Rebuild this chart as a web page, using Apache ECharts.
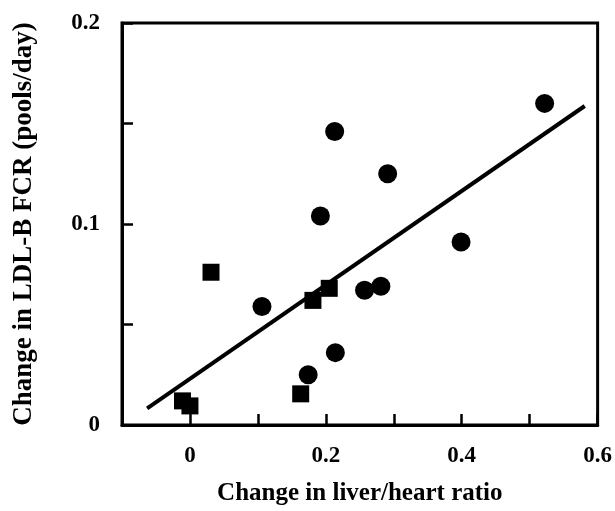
<!DOCTYPE html>
<html>
<head>
<meta charset="utf-8">
<script src="https://cdn.jsdelivr.net/npm/echarts@6/dist/echarts.min.js"></script>
<style>
  html, body { margin: 0; padding: 0; background: #fff; }
  #chart { width: 615px; height: 511px; }
</style>
</head>
<body>
<div id="chart"></div>
<script>
// circles
const circleX = [0.106, 0.174, 0.192, 0.213, 0.214, 0.257, 0.281, 0.291, 0.399, 0.522];
const circleY = [0.059, 0.025, 0.104, 0.146, 0.036, 0.067, 0.069, 0.125, 0.091, 0.160];
// squares
const squareX = [-0.011, 0.0, 0.031, 0.163, 0.181, 0.205];
const squareY = [0.012, 0.0095, 0.076, 0.0155, 0.062, 0.068];
// regression line end points
const fitX = [-0.063, 0.581];
const fitY = [0.0083, 0.1587];

const xLabels = ['0', '0.2', '0.4', '0.6'];
const yLabels = ['0', '0.1', '0.2'];

function pairs(xs, ys) {
  return xs.map((x, i) => [x, ys[i]]);
}

const font = 'Liberation Serif';

var chart = echarts.init(document.getElementById('chart'));

chart.setOption({
  animation: false,
  grid: {
    left: 122, right: 17, top: 23, bottom: 80,
    show: true, borderColor: '#000', borderWidth: 3
  },
  xAxis: {
    type: 'value',
    min: -0.1, max: 0.6, interval: 0.1,
    name: 'Change in liver/heart ratio',
    nameLocation: 'middle',
    nameGap: 56,
    nameTextStyle: { fontFamily: font, fontWeight: 'bold', fontSize: 25, color: '#000' },
    axisLine: { onZero: false, lineStyle: { color: '#000', width: 3 } },
    axisTick: { inside: true, length: 11, lineStyle: { color: '#000', width: 2.5 } },
    splitLine: { show: false },
    axisLabel: {
      margin: 20,
      fontFamily: font, fontWeight: 'bold', fontSize: 23, color: '#000',
      formatter: function (v) {
        const k = Math.round(v * 10);
        if (k < 0 || k % 2 !== 0) return '';
        return xLabels[k / 2];
      }
    }
  },
  yAxis: {
    type: 'value',
    min: 0, max: 0.2, interval: 0.05,
    name: 'Change in LDL-B FCR (pools/day)',
    nameLocation: 'middle',
    nameGap: 84,
    nameTextStyle: { fontFamily: font, fontWeight: 'bold', fontSize: 27, color: '#000' },
    axisLine: { onZero: false, lineStyle: { color: '#000', width: 3 } },
    axisTick: { inside: true, length: 11, lineStyle: { color: '#000', width: 2.5 } },
    splitLine: { show: false },
    axisLabel: {
      margin: 22,
      fontFamily: font, fontWeight: 'bold', fontSize: 23, color: '#000',
      formatter: function (v) {
        const k = Math.round(v * 20);
        if (k % 2 !== 0) return '';
        return yLabels[k / 2];
      }
    }
  },
  series: [
    {
      type: 'line',
      data: pairs(fitX, fitY),
      symbol: 'none',
      lineStyle: { color: '#000', width: 4 },
      z: 1
    },
    {
      type: 'scatter',
      data: pairs(circleX, circleY),
      symbol: 'circle',
      symbolSize: 19,
      itemStyle: { color: '#000', opacity: 1 },
      z: 2
    },
    {
      type: 'scatter',
      data: pairs(squareX, squareY),
      symbol: 'rect',
      symbolSize: 17,
      itemStyle: { color: '#000', opacity: 1 },
      z: 2
    }
  ]
});
</script>
</body>
</html>
